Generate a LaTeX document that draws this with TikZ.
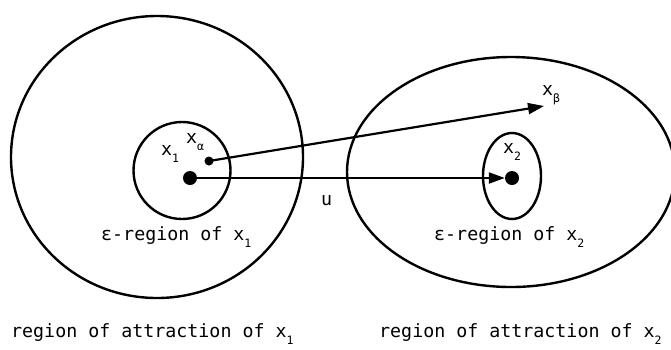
\documentclass[tikz,border=0pt]{standalone}
\usepackage{fontspec}
\setmainfont{DejaVu Sans Mono}
\usetikzlibrary{arrows.meta}
\newcommand\sbs[1]{\raisebox{-7.5pt}{\fontsize{11.5}{11.5}\selectfont #1}}
\tikzset{
  region/.style={draw, line width=2.4pt},
  dotnode/.style={circle, fill=black, inner sep=0pt},
  lbl/.style={inner sep=0pt, anchor=base west, font=\fontsize{18.3}{20}\selectfont},
  conn/.style={line width=2.2pt, -{Triangle[length=16pt,width=11pt]}}
}
\begin{document}
\begin{tikzpicture}[x=1pt,y=-1pt]
\useasboundingbox (0,0) rectangle (671,349);
\clip (0,0) rectangle (671,349);
% regions
\draw[region] (157,157) ellipse [x radius=146, y radius=141];
\draw[region] (182,170.5) circle [radius=48.5];
\draw[region] (511,172) ellipse [x radius=164, y radius=115];
\draw[region] (512,176) ellipse [x radius=29, y radius=43];
% points
\node[dotnode, minimum size=14pt] (x1dot) at (190,178) {};
\node[dotnode, minimum size=9pt] (xadot) at (209,161) {};
\node[dotnode, minimum size=14pt] (x2dot) at (512,178) {};
\coordinate (xb) at (544,106);
% connectors
\draw[conn] (xadot.center) -- (xb);
\draw[conn] (x1dot.center) -- (x2dot);
% labels
\node[lbl] (lx1) at (161,155) {x\sbs{1}};
\node[lbl] (lxa) at (186,143) {x\sbs{α}};
\node[lbl] (lxb) at (542,95) {x\sbs{β}};
\node[lbl] (lx2) at (503,153) {x\sbs{2}};
\node[lbl] (lu) at (321,205) {u};
\node[lbl] (le1) at (101,240) {ε-region of x\sbs{1}};
\node[lbl] (le2) at (434,240) {ε-region of x\sbs{2}};
\node[lbl] (lr1) at (11,337) {region of attraction of x\sbs{1}};
\node[lbl] (lr2) at (379,337) {region of attraction of x\sbs{2}};
\end{tikzpicture}
\end{document}
